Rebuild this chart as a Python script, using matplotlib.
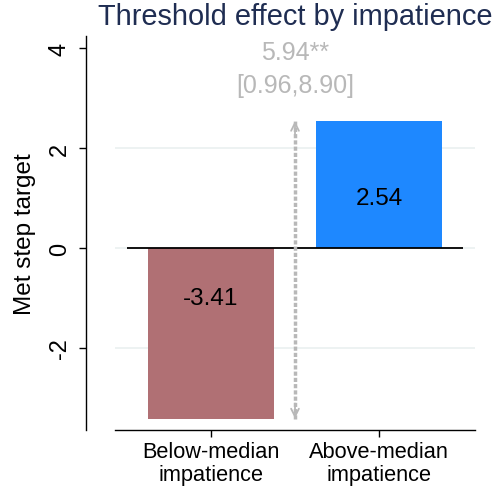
import matplotlib
matplotlib.use("Agg")
import matplotlib.pyplot as plt

plt.rcParams['font.family'] = ['Liberation Sans', 'DejaVu Sans']

categories = ["Below-median\nimpatience", "Above-median\nimpatience"]
values = [-3.41, 2.54]
bar_colors = ["#b07074", "#1e88ff"]
label_y = [-1.0, 1.0]
diff_text = "5.94**"
ci_text = "[0.96,8.90]"
yticks = [-2, 0, 2, 4]

W, H, DPI = 495, 489, 100
fig = plt.figure(figsize=(W / DPI, H / DPI), dpi=DPI)
# axes box in pixels: x 115..475, y 37..431 (from top)
ax = fig.add_axes([115 / W, 1 - 431 / H, (475 - 115) / W, (431 - 37) / H])

pos = list(range(len(categories)))
ax.set_xlim(-0.571, 1.571)
ax.set_ylim(-3.64, 4.24)

# light horizontal gridlines
for t in yticks[:-1]:
    ax.axhline(t, color="#eaf0f0", lw=1.2, zorder=0)

ax.bar(pos, values, width=0.75, color=bar_colors, zorder=2)
ax.hlines(0, -0.5, 1.5, color="black", lw=1.3, zorder=3)

for x, v, ly in zip(pos, values, label_y):
    ax.text(x, ly, f"{v:.2f}", ha="center", va="center", fontsize=17.5, color="black", zorder=4)

# difference arrow between the two bar tops
gray = "#b8b8b8"
xm = 0.5
ax.vlines(xm, values[0], values[1], colors=gray, lw=2.5, linestyles=(0, (1.2, 0.6)), zorder=3)
ax.annotate("", xy=(xm, values[1]), xytext=(xm, values[1] - 0.3),
            arrowprops=dict(arrowstyle="->", color=gray, lw=1.3, mutation_scale=14, shrinkA=0, shrinkB=0), zorder=3)
ax.annotate("", xy=(xm, values[0]), xytext=(xm, values[0] + 0.3),
            arrowprops=dict(arrowstyle="->", color=gray, lw=1.3, mutation_scale=14, shrinkA=0, shrinkB=0), zorder=3)
ax.text(xm, 3.92, diff_text, ha="center", va="center", fontsize=18, color=gray)
ax.text(xm, 3.26, ci_text, ha="center", va="center", fontsize=18, color=gray)

# Stata-like separated axes
for s in ["top", "right"]:
    ax.spines[s].set_visible(False)
ax.spines["left"].set_position(("outward", 29 * 72 / DPI))
ax.spines["left"].set_linewidth(1.0)
ax.spines["bottom"].set_linewidth(1.0)

ax.set_yticks(yticks)
ax.set_yticklabels([str(t) for t in yticks], rotation=90, va="center")
ax.set_xticks(pos)
ax.set_xticklabels(categories, linespacing=1.12)
ax.tick_params(axis="both", direction="out", length=5, width=1, colors="black")
ax.tick_params(axis="x", labelsize=15.7, pad=3)
ax.tick_params(axis="y", labelsize=17, pad=6)
ax.set_ylabel("Met step target", fontsize=17.5, labelpad=9)

fig.text(295 / W, 1 - 17 / H, "Threshold effect by impatience", ha="center", va="center",
         fontsize=20.9, color="#1f2d52")

fig.savefig("out.png", dpi=DPI)
